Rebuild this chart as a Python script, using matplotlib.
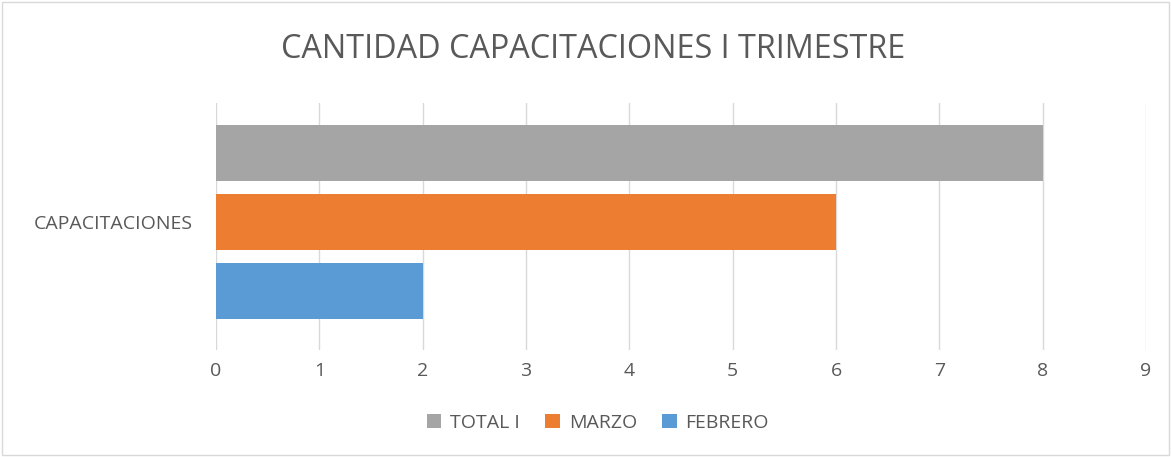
import matplotlib.pyplot as plt
from matplotlib.patches import Rectangle

# data
series = ['FEBRERO', 'MARZO', 'TOTAL I']
values = [2, 6, 8]
category = 'CAPACITACIONES'
colors = ['#5B9BD5', '#ED7D31', '#A5A5A5']

plt.rcParams['font.family'] = ['Open Sans', 'DejaVu Sans']

fig = plt.figure(figsize=(11.71, 4.57), dpi=100)
ax = fig.add_axes([216 / 1171, 1 - 350 / 457, (1146 - 216) / 1171, (350 - 103) / 457])

handles = []
for i, (name, v, c) in enumerate(zip(series, values, colors)):
    h = ax.barh(i, v, height=0.81, color=c, label=name, zorder=3)
    handles.append(h)

ax.set_xlim(0, 9)
ax.set_ylim(-0.86, 2.72)
ax.set_xticks(range(0, 10))
ax.set_yticks([1])
ax.set_yticklabels([category])
ax.tick_params(axis='both', length=0, labelsize=14, colors='#595959')
ax.tick_params(axis='x', pad=9)
ax.tick_params(axis='y', pad=17)
ax.grid(axis='x', color='#D9D9D9', linewidth=1, zorder=0)
for s in ax.spines.values():
    s.set_visible(False)

fig.text(593 / 1171, 1 - 50 / 457, 'CANTIDAD CAPACITACIONES I TRIMESTRE', ha='center', va='center',
         fontsize=23.3, color='#595959')

leg = fig.legend(handles[::-1], series[::-1], loc='center', bbox_to_anchor=(598 / 1171, 1 - 423 / 457),
                 ncol=3, frameon=False, fontsize=14, handlelength=0.75, handleheight=0.75,
                 columnspacing=1.3, handletextpad=0.45)
for t in leg.get_texts():
    t.set_color('#595959')

fig.patches.append(Rectangle((0.002, 0.004), 0.996, 0.992, transform=fig.transFigure,
                             fill=False, edgecolor='#D9D9D9', linewidth=1))

fig.savefig('out.png', dpi=100)
